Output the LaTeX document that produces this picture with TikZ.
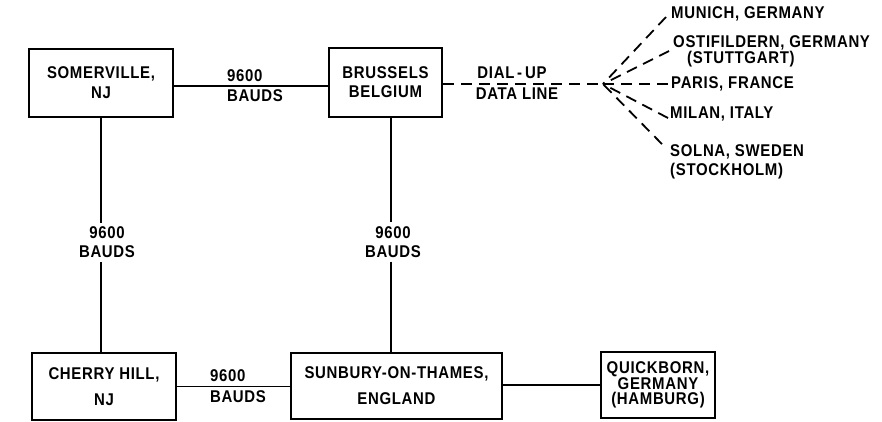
\documentclass[tikz,border=0pt]{standalone}
\usepackage{fontspec}
\setmainfont{Liberation Sans}[LetterSpace=4,FakeStretch=0.88]
\usetikzlibrary{calc}
\begin{document}
\begin{tikzpicture}[x=1pt,y=-1pt,
  box/.style={draw,line width=1.8pt,inner sep=0pt,align=center},
  lbl/.style={inner sep=0pt},
  fs/.style={font=\fontsize{17}{#1}\selectfont\bfseries},
  conn/.style={line width=1.6pt},
  dl/.style={line width=1.8pt,dash pattern=on 11pt off 7pt}]
\useasboundingbox (0,0) rectangle (882,421);

% boxes
\node[box,fs=20,minimum width=144pt,minimum height=68pt] (som) at (101,83) {SOMERVILLE,\\NJ};
\node[box,fs=19,minimum width=113pt,minimum height=69pt] (bru) at (385.5,82.5) {BRUSSELS\\BELGIUM};
\node[box,fs=26,minimum width=144pt,minimum height=67pt] (cher) at (104,386.5) {CHERRY HILL,\\NJ};
\node[box,fs=26,minimum width=211pt,minimum height=66pt] (sun) at (396.5,386) {SUNBURY-ON-THAMES,\\ENGLAND};
\node[box,fs=15.5,minimum width=114pt,minimum height=66pt] (qui) at (658,385) {QUICKBORN,\\GERMANY\\(HAMBURG)};

% line labels
\node[lbl,fs=20,align=left] (l1) at (255,86) {9600\\BAUDS};
\node[lbl,fs=21,align=left] (l2) at (238,386.5) {9600\\BAUDS};
\node[lbl,fs=19,align=center,inner ysep=4pt] (l3) at (107,242.5) {9600\\BAUDS};
\node[lbl,fs=19,align=center,inner ysep=4pt] (l4) at (393,242) {9600\\BAUDS};

% solid connectors
\draw[conn] ([yshift=-3pt]som.east) -- ([yshift=-3pt]som.east -| bru.west);
\draw[conn] (cher.east) -- (cher.east -| sun.west);
\draw[conn] (qui.west -| sun.east) -- (qui.west);
\draw[conn] (som.south) -- (som.south |- l3.north);
\draw[conn] (som.south |- l3.south) -- (som.south |- cher.north);
\coordinate (bs) at ([xshift=5.5pt]bru.south);
\draw[conn] (bs) -- (bs |- l4.north);
\draw[conn] (bs |- l4.south) -- (bs |- sun.north);

% dial-up fan
\coordinate (hub) at (603,84);
\node[lbl,fs=20] (dial) at (512,73) {DIAL\,-\,UP};
\node[lbl,fs=20] (data) at (517,94) {DATA LINE};
\node[lbl,fs=20,anchor=west] (mun) at (671,14) {MUNICH, GERMANY};
\node[lbl,fs=14,anchor=west,align=left] (ost) at (673,51) {OSTIFILDERN, GERMANY\\\hspace{14pt}(STUTTGART)};
\node[lbl,fs=20,anchor=west] (par) at (671,84) {PARIS, FRANCE};
\node[lbl,fs=20,anchor=west] (mil) at (670,114) {MILAN, ITALY};
\node[lbl,fs=19,anchor=west,align=left] (sol) at (670,161.5) {SOLNA, SWEDEN\\(STOCKHOLM)};

\draw[dl] (bru.east |- hub) -- (hub);
\draw[dl] ([xshift=-5pt,yshift=-3pt]mun.west) -- (hub);
\draw[dl] ([xshift=-4pt]ost.west) -- (hub);
\draw[dl] ([xshift=-3pt]par.west) -- (hub);
\draw[dl] ([xshift=-2pt,yshift=-4pt]mil.west) -- (hub);
\draw[dl] ([xshift=-8pt]sol.north west) -- (hub);
\end{tikzpicture}
\end{document}
